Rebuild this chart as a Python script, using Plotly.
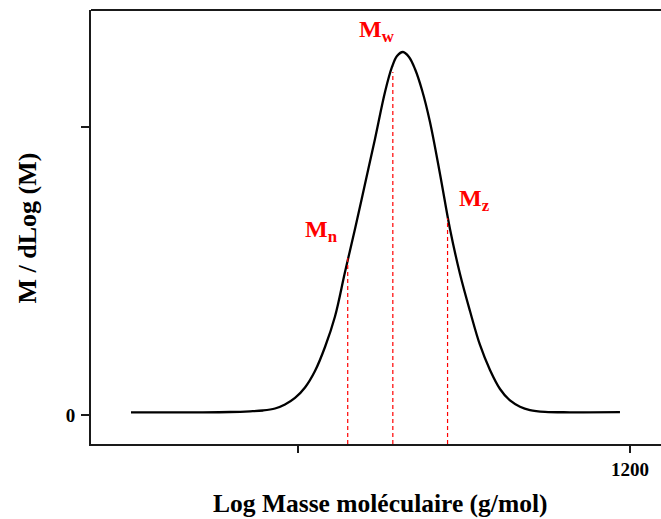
import plotly.graph_objects as go

# Molar-mass distribution curve (log scale of M on x)
log_m = [1049.56, 1070.36, 1079.41, 1085.44, 1089.36, 1092.98, 1095.99, 1099.01,
         1102.02, 1105.03, 1108.05, 1111.06, 1114.08, 1117.09, 1120.11, 1123.12,
         1126.14, 1128.25, 1129.76, 1131.56, 1133.37, 1135.18, 1137.29, 1139.70,
         1142.72, 1145.73, 1148.75, 1151.76, 1154.78, 1157.79, 1160.81, 1163.82,
         1166.84, 1169.85, 1174.37, 1181.91, 1196.98]
w_dlogm = [0.0094, 0.0094, 0.0104, 0.0128, 0.0156, 0.0225, 0.0364, 0.0590,
           0.0954, 0.1526, 0.2359, 0.3417, 0.4960, 0.6452, 0.8012, 0.9573,
           1.1204, 1.2071, 1.2452, 1.2591, 1.2418, 1.2001, 1.1273, 1.0163,
           0.8359, 0.6452, 0.4891, 0.3607, 0.2428, 0.1561, 0.0902, 0.0503,
           0.0288, 0.0173, 0.0111, 0.0094, 0.0097]

# Average molar masses and the heights of their marker lines
avg_names = ["n", "w", "z"]
avg_pos = [1114.9, 1128.5, 1145.0]
avg_top = [0.550, 1.1897, 0.6823]
# Label anchor (left edge x, vertical centre y) for each average
label_x = [1101.4, 1117.7, 1147.8]
label_y = [0.638, 1.333, 0.745]

x_ticks = [1100, 1200]
x_ticktext = ["", "1200"]
y_ticks = [0, 1]
y_ticktext = ["0", ""]

X_RANGE = [1037.5, 1209.35]
Y_RANGE = [-0.1006, 1.4047]

serif = "Liberation Serif, Times New Roman, serif"

fig = go.Figure()
fig.add_trace(go.Scatter(
    x=log_m, y=w_dlogm, mode="lines",
    line=dict(color="black", width=2.3, shape="spline", smoothing=1.0),
    hoverinfo="skip", showlegend=False,
))

for name, xp, top, lx, ly in zip(avg_names, avg_pos, avg_top, label_x, label_y):
    fig.add_shape(type="line", xref="x", yref="y",
                  x0=xp, x1=xp, y0=Y_RANGE[0], y1=top,
                  line=dict(color="#ff0000", width=1.2, dash="4px,3px"))
    fig.add_annotation(x=lx, y=ly, xref="x", yref="y",
                       text=f"M<sub>{name}</sub>", showarrow=False,
                       xanchor="left", yanchor="middle",
                       font=dict(family=serif, size=24, color="#ff0000", weight="bold"))

# Top frame line running out to the right edge
fig.add_shape(type="line", xref="paper", yref="paper", x0=0, x1=1, y0=1, y1=1,
              line=dict(color="#1a1a1a", width=2))

# Axis titles, placed at fixed offsets from the plot area
fig.add_annotation(x=0.5079, y=0, xref="paper", yref="paper", yshift=-59,
                   text="Log Masse moléculaire (g/mol)", showarrow=False,
                   xanchor="center", yanchor="middle", borderpad=0,
                   font=dict(family=serif, size=25.5, weight="bold", color="black"))
fig.add_annotation(x=0, y=0.4965, xref="paper", yref="paper", xshift=-63,
                   text="M / dLog (M)", showarrow=False, textangle=-90,
                   xanchor="center", yanchor="middle",
                   font=dict(family=serif, size=26, weight="bold", color="black"))

fig.update_layout(
    width=661, height=519,
    margin=dict(l=91, r=0, t=10, b=75, autoexpand=False),
    paper_bgcolor="white", plot_bgcolor="white",
    font=dict(family=serif, color="black"),
)
fig.update_xaxes(
    range=X_RANGE, showgrid=False, zeroline=False, automargin=False,
    showline=True, linecolor="#1a1a1a", linewidth=2,
    ticks="outside", ticklen=7, tickwidth=1.5, tickcolor="#1a1a1a",
    tickvals=x_ticks, ticktext=x_ticktext,
    tickfont=dict(family=serif, size=19, weight="bold"),
)
fig.update_yaxes(
    range=Y_RANGE, showgrid=False, zeroline=False, automargin=False,
    showline=True, linecolor="#1a1a1a", linewidth=2,
    ticks="outside", ticklen=8, tickwidth=1.5, tickcolor="#1a1a1a",
    tickvals=y_ticks, ticktext=y_ticktext,
    tickfont=dict(family=serif, size=19, weight="bold"),
    ticklabelstandoff=2,
)

fig.write_html("out.html")
